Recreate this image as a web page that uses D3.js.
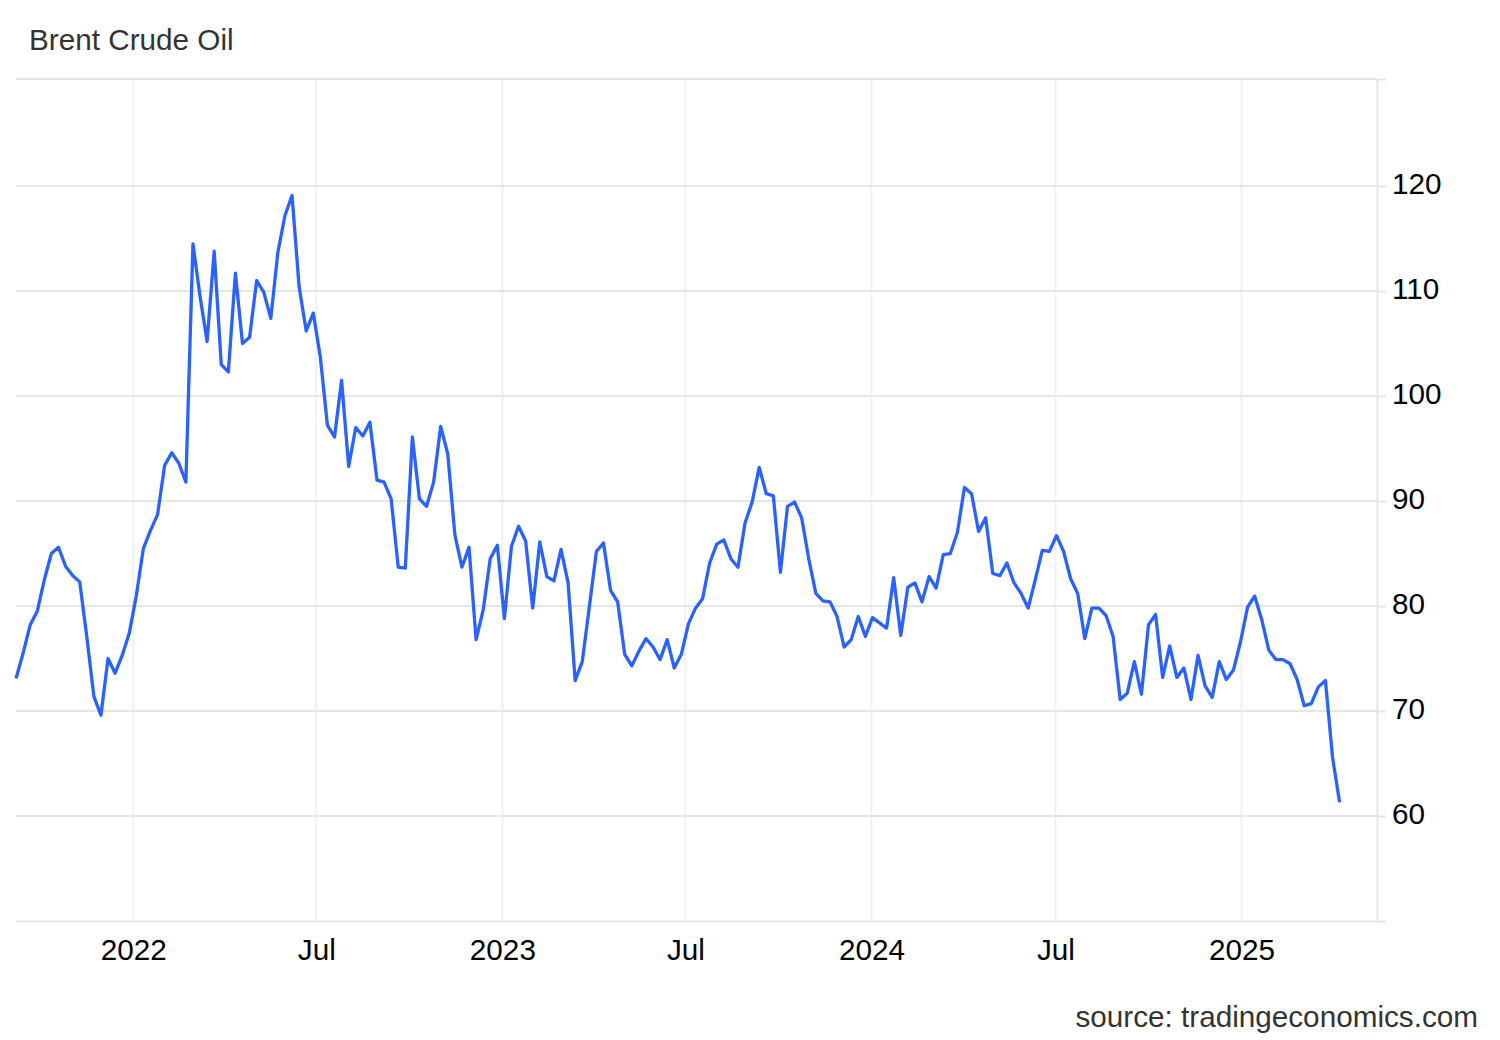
<!DOCTYPE html>
<html lang="en">
<head>
    <meta charset="UTF-8">
    <title>Brent Crude Oil</title>
    <script src="https://d3js.org/d3.v7.min.js"></script>
    <style>
        body { margin: 0; background: #fff; }
        svg { display: block; font-family: "Liberation Sans", Arial, sans-serif; }
    </style>
</head>
<body>
<svg id="chart"></svg>
<script>
    // weekly closes, first week and then every 7 days
    const firstWeek = "2021-09-07";
    const prices = [
        73.1, 75.5, 78.2, 79.5, 82.5, 85.0, 85.6, 83.8, 82.9, 82.3, 77.1, 71.4, 69.6, 75.0, 73.6, 75.3,
        77.4, 81.0, 85.5, 87.2, 88.7, 93.4, 94.6, 93.6, 91.8, 114.5, 109.5, 105.2, 113.8, 103.0, 102.3, 111.7,
        105.0, 105.6, 111.0, 109.9, 107.4, 113.7, 117.2, 119.1, 110.4, 106.2, 107.9, 103.7, 97.2, 96.1, 101.5,
        93.3, 97.0, 96.2, 97.5, 92.0, 91.8, 90.2, 83.7, 83.6, 96.1, 90.2, 89.5, 91.8, 97.1, 94.5, 86.8,
        83.7, 85.6, 76.8, 79.6, 84.5, 85.8, 78.8, 85.7, 87.6, 86.2, 79.8, 86.1, 82.8, 82.4, 85.4, 82.2,
        72.9, 74.7, 79.9, 85.2, 86.0, 81.5, 80.4, 75.4, 74.3, 75.7, 76.9, 76.1, 74.9, 76.8, 74.1,
        75.4, 78.3, 79.8, 80.7, 84.1, 85.9, 86.3, 84.5, 83.7, 87.9, 89.9, 93.2, 90.7, 90.5, 83.2, 89.5,
        89.9, 88.4, 84.5, 81.2, 80.5, 80.4, 79.0, 76.1, 76.8, 79.0, 77.1, 78.9, 78.4, 77.9, 82.7,
        77.2, 81.8, 82.2, 80.4, 82.8, 81.7, 84.9, 85.0, 87.0, 91.3, 90.7, 87.1, 88.4, 83.1, 82.9, 84.1,
        82.2, 81.2, 79.8, 82.5, 85.3, 85.2, 86.7, 85.2, 82.6, 81.2, 76.9, 79.8, 79.8, 79.1, 77.1, 71.1,
        71.7, 74.7, 71.6, 78.2, 79.2, 73.2, 76.2, 73.2, 74.1, 71.1, 75.3, 72.4, 71.3, 74.7, 73.0, 73.9,
        76.6, 79.9, 80.95, 78.7, 75.8, 74.9, 74.9, 74.5, 73.0, 70.5, 70.7, 72.3, 72.9, 65.6, 61.3
    ];
    const xDomain = ["2021-09-07", "2025-05-15"];
    const xTickDates = ["2022-01-01", "2022-07-01", "2023-01-01", "2023-07-01", "2024-01-01", "2024-07-01", "2025-01-01"];
    const xTickLabels = ["2022", "Jul", "2023", "Jul", "2024", "Jul", "2025"];
    const yDomain = [50, 130.2];
    const yTicks = [60, 70, 80, 90, 100, 110, 120];

    const width = 1500, height = 1040;
    const plot = {left: 16, right: 1377, top: 79, bottom: 921};
    const fontSize = 29.7;

    const parseDate = d3.timeParse("%Y-%m-%d");
    const start = parseDate(firstWeek);
    const data = prices.map((p, i) => ({date: d3.timeDay.offset(start, 7 * i), price: p}));

    const svg = d3.select("#chart").attr("width", width).attr("height", height);

    const x = d3.scaleTime()
        .domain(xDomain.map(parseDate))
        .range([plot.left, plot.right]);

    const y = d3.scaleLinear()
        .domain(yDomain)
        .range([plot.bottom, plot.top]);

    // vertical grid
    svg.append("g")
        .selectAll("line")
        .data(xTickDates.map(parseDate))
        .join("line")
        .attr("x1", d => x(d)).attr("x2", d => x(d))
        .attr("y1", plot.top).attr("y2", plot.bottom)
        .attr("stroke", "#eef1f5")
        .attr("stroke-width", 2);

    // horizontal grid
    svg.append("g")
        .selectAll("line")
        .data(yTicks)
        .join("line")
        .attr("x1", plot.left).attr("x2", plot.right)
        .attr("y1", d => y(d)).attr("y2", d => y(d))
        .attr("stroke", "#e6e6e6")
        .attr("stroke-width", 2);

    // top frame line
    svg.append("line")
        .attr("x1", plot.left).attr("x2", plot.right)
        .attr("y1", y(yDomain[1])).attr("y2", y(yDomain[1]))
        .attr("stroke", "#e6e6e6")
        .attr("stroke-width", 2);

    // x axis
    const xAxis = svg.append("g")
        .attr("transform", "translate(0," + plot.bottom + ")")
        .call(d3.axisBottom(x)
            .tickValues(xTickDates.map(parseDate))
            .tickFormat((d, i) => xTickLabels[i])
            .tickSize(0)
            .tickPadding(18));
    xAxis.select(".domain").attr("stroke", "#e6e6e6").attr("stroke-width", 2);
    xAxis.selectAll("text")
        .attr("fill", "#000")
        .style("font-size", fontSize + "px")
        .style("font-family", "'Liberation Sans', Arial, sans-serif");

    // y axis on the right
    const yAxis = svg.append("g")
        .attr("transform", "translate(" + plot.right + ",0)")
        .call(d3.axisRight(y)
            .tickValues(yTicks)
            .tickSize(9)
            .tickSizeOuter(9)
            .tickPadding(6));
    yAxis.select(".domain").attr("stroke", "#e6e6e6").attr("stroke-width", 2);
    yAxis.selectAll(".tick line").attr("stroke", "#e6e6e6").attr("stroke-width", 2);
    yAxis.selectAll("text")
        .attr("fill", "#000")
        .attr("dy", "0.25em")
        .style("font-size", fontSize + "px")
        .style("font-family", "'Liberation Sans', Arial, sans-serif");

    // price line
    const line = d3.line()
        .x(d => x(d.date))
        .y(d => y(d.price));

    svg.append("path")
        .datum(data)
        .attr("fill", "none")
        .attr("stroke", "#2962ff")
        .attr("stroke-width", 3.3)
        .attr("stroke-linejoin", "round")
        .attr("d", line);

    // title and source
    svg.append("text")
        .attr("x", 29).attr("y", 50)
        .attr("fill", "#333")
        .style("font-size", fontSize + "px")
        .text("Brent Crude Oil");

    svg.append("text")
        .attr("x", 1478).attr("y", 1027)
        .attr("text-anchor", "end")
        .attr("fill", "#333")
        .style("font-size", fontSize + "px")
        .text("source: tradingeconomics.com");
</script>
</body>
</html>
